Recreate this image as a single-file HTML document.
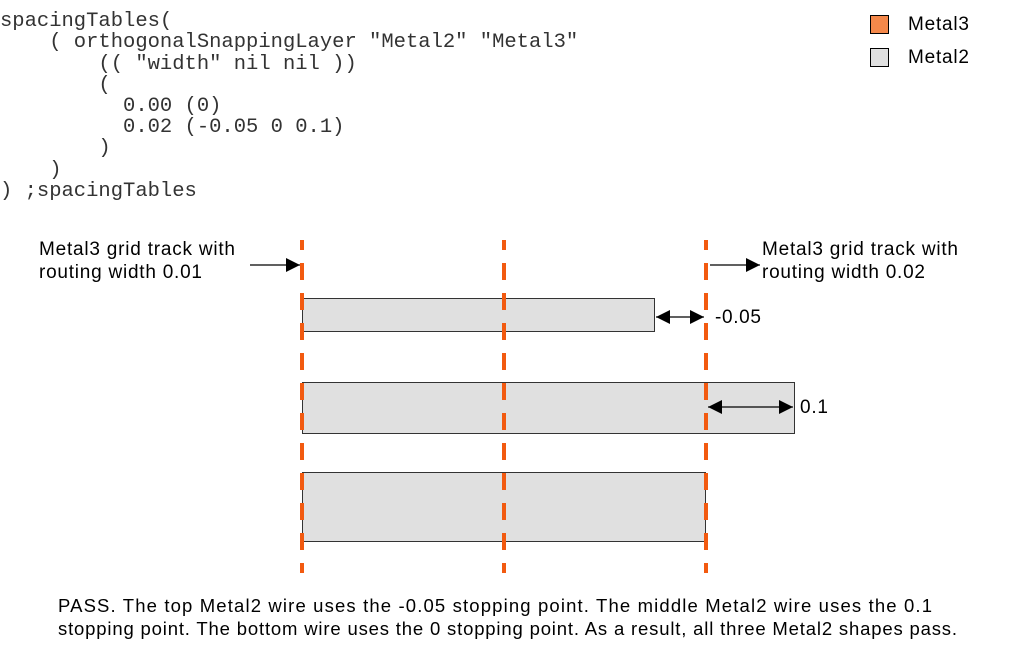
<!DOCTYPE html>
<html><head><meta charset="utf-8"><style>
body{margin:0;background:#fff;width:1013px;height:656px;overflow:hidden}
svg text{font-family:"Liberation Sans",sans-serif;fill:#000}
svg text.m{font-family:"Liberation Mono",monospace;font-size:20.5px;fill:#333;white-space:pre}
</style></head><body>
<svg width="1013" height="656" viewBox="0 0 1013 656" xmlns="http://www.w3.org/2000/svg">
<defs>
<marker id="a" viewBox="0 0 10 10" refX="10" refY="5" markerWidth="24" markerHeight="14" markerUnits="userSpaceOnUse" orient="auto-start-reverse"><path d="M0,0L10,5L0,10z" fill="#000"/></marker>
</defs>
<text x="0" y="26" class="m" xml:space="preserve">spacingTables(</text>
<text x="0" y="47" class="m" xml:space="preserve">    ( orthogonalSnappingLayer "Metal2" "Metal3"</text>
<text x="0" y="69" class="m" xml:space="preserve">        (( "width" nil nil ))</text>
<text x="0" y="90" class="m" xml:space="preserve">        (</text>
<text x="0" y="111" class="m" xml:space="preserve">          0.00 (0)</text>
<text x="0" y="132" class="m" xml:space="preserve">          0.02 (-0.05 0 0.1)</text>
<text x="0" y="153" class="m" xml:space="preserve">        )</text>
<text x="0" y="175" class="m" xml:space="preserve">    )</text>
<text x="0" y="196" class="m" xml:space="preserve">) ;spacingTables</text>
<rect x="870.5" y="15.5" width="18" height="18" fill="#f4884a" stroke="#000"/>
<rect x="870.5" y="48.5" width="18" height="18" fill="#e0e0e0" stroke="#000"/>
<text x="908" y="30" font-size="19" textLength="61">Metal3</text>
<text x="908" y="63" font-size="19" textLength="61">Metal2</text>
<rect x="302.5" y="298.5" width="352" height="33" fill="#e0e0e0" stroke="#333"/>
<rect x="302.5" y="382.5" width="492" height="51" fill="#e0e0e0" stroke="#333"/>
<rect x="302.5" y="472.5" width="403" height="69" fill="#e0e0e0" stroke="#333"/>
<g stroke="#f25a10" stroke-width="4" stroke-dasharray="17 13" stroke-dashoffset="7">
<line x1="302" y1="240" x2="302" y2="573"/>
<line x1="504" y1="240" x2="504" y2="573"/>
<line x1="706" y1="240" x2="706" y2="573"/>
</g>
<g stroke="#000" stroke-width="1.2">
<line x1="250" y1="265" x2="300" y2="265" marker-end="url(#a)"/>
<line x1="710" y1="265" x2="760" y2="265" marker-end="url(#a)"/>
<line x1="656" y1="317" x2="704" y2="317" marker-start="url(#a)" marker-end="url(#a)"/>
<line x1="708" y1="407" x2="793" y2="407" marker-start="url(#a)" marker-end="url(#a)"/>
</g>
<text x="39" y="255" font-size="19" textLength="196">Metal3 grid track with</text>
<text x="39" y="278" font-size="19" textLength="163">routing width 0.01</text>
<text x="762" y="255" font-size="19" textLength="196">Metal3 grid track with</text>
<text x="762" y="278" font-size="19" textLength="163">routing width 0.02</text>
<text x="715" y="323" font-size="19" textLength="46">-0.05</text>
<text x="800" y="413" font-size="19" textLength="28">0.1</text>
<text x="58" y="612" font-size="18.5" textLength="874">PASS. The top Metal2 wire uses the -0.05 stopping point. The middle Metal2 wire uses the 0.1</text>
<text x="58" y="635" font-size="18.5" textLength="899">stopping point. The bottom wire uses the 0 stopping point. As a result, all three Metal2 shapes pass.</text>
</svg>
</body></html>
